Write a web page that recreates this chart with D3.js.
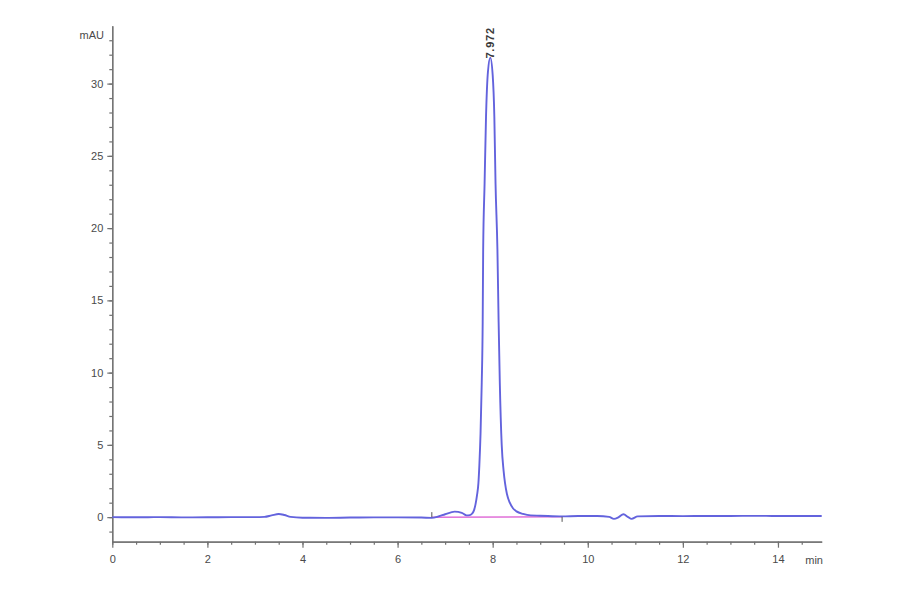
<!DOCTYPE html>
<html>
<head>
<meta charset="utf-8">
<script src="https://cdn.jsdelivr.net/npm/d3@7"></script>
<style>
  body { margin: 0; background: #fff; }
  svg { font-family: Arial, "Liberation Sans", sans-serif; }
  .axis path, .axis line { stroke: #707070; stroke-width: 1.2; }
  .axis text { fill: #4a4a4a; font-size: 11px; }
</style>
</head>
<body>
<div id="chart"></div>
<script>
// retention time (min) and detector signal (mAU)
var times = [0, 0.5, 1.0, 1.5, 2.0, 2.5, 3.0, 3.2, 3.35, 3.5, 3.62, 3.75, 4.0, 4.5, 5.0, 5.5, 6.0, 6.5,
             6.72, 6.86, 7.0, 7.2, 7.35, 7.45, 7.52, 7.57, 7.61, 7.64, 7.67, 7.70, 7.72, 7.745, 7.77,
             7.79, 7.80, 7.83, 7.86, 7.90, 7.95, 8.00, 8.035, 8.06, 8.10, 8.125, 8.15, 8.19, 8.23, 8.26,
             8.30, 8.36, 8.43, 8.50, 8.64, 8.80, 9.0, 9.46, 9.8, 10.2, 10.45, 10.55, 10.65, 10.75,
             10.85, 10.92, 11.05, 11.5, 12.0, 12.5, 13.0, 13.5, 14.0, 14.5, 14.92];
var signal = [0.0, -0.01, 0.0, -0.02, -0.01, 0.0, 0.0, 0.02, 0.12, 0.22, 0.15, 0.02, -0.04, -0.05, -0.03, -0.02, -0.02, -0.03,
              -0.05, 0.05, 0.2, 0.38, 0.3, 0.12, 0.14, 0.25, 0.5, 0.9, 1.5, 2.35, 3.6, 5.8, 9.3,
              13.5, 18.5, 23.1, 27.7, 30.8, 31.8, 30.6, 27.7, 23.1, 18.5, 13.5, 9.3, 5.0, 3.2, 2.35,
              1.6, 1.0, 0.6, 0.4, 0.22, 0.12, 0.1, 0.05, 0.08, 0.08, 0.02, -0.12, 0.0, 0.2,
              0.0, -0.12, 0.05, 0.08, 0.07, 0.08, 0.08, 0.09, 0.08, 0.08, 0.08];

// integration baseline of the main peak
var baseStart = [6.72, 0.0];
var baseEnd = [9.46, 0.02];
var peakTime = 7.95;
var peakHeight = 31.8;
var peakLabel = "7.972";

var xMajorTicks = [0, 2, 4, 6, 8, 10, 12, 14];
var yMajorTicks = [0, 5, 10, 15, 20, 25, 30];
var xUnit = "min";
var yUnit = "mAU";

var width = 900, height = 594;

var svg = d3.select("#chart")
    .append("svg")
    .attr("width", width)
    .attr("height", height);

var xScale = d3.scaleLinear()
    .domain([0, 14.92])
    .range([112.3, 821.7]);

var yScale = d3.scaleLinear()
    .domain([-1.7, 34])
    .range([541.7, 25.8]);

// minor ticks first, then the labelled ones on top
svg.append("g")
    .attr("class", "axis")
    .attr("transform", "translate(0," + yScale.range()[0] + ")")
    .call(d3.axisBottom(xScale).tickValues(d3.range(0, 14.92, 0.5)).tickSize(3).tickSizeOuter(0).tickFormat(""));

svg.append("g")
    .attr("class", "axis")
    .attr("transform", "translate(0," + yScale.range()[0] + ")")
    .call(d3.axisBottom(xScale).tickValues(xMajorTicks).tickSize(6).tickSizeOuter(0).tickPadding(8).tickFormat(d3.format("d")));

svg.append("g")
    .attr("class", "axis")
    .attr("transform", "translate(" + xScale.range()[0] + ",0)")
    .call(d3.axisLeft(yScale).tickValues(d3.range(-1, 34, 1)).tickSize(3).tickSizeOuter(0).tickFormat(""));

svg.append("g")
    .attr("class", "axis")
    .attr("transform", "translate(" + xScale.range()[0] + ",0)")
    .call(d3.axisLeft(yScale).tickValues(yMajorTicks).tickSize(5).tickSizeOuter(0).tickPadding(4).tickFormat(d3.format("d")));

svg.append("text")
    .attr("x", 104)
    .attr("y", 39)
    .attr("text-anchor", "end")
    .attr("fill", "#4a4a4a")
    .style("font-size", "11px")
    .text(yUnit);

svg.append("text")
    .attr("x", 823)
    .attr("y", 564)
    .attr("text-anchor", "end")
    .attr("fill", "#4a4a4a")
    .style("font-size", "11px")
    .text(xUnit);

// baseline under the peak
svg.append("line")
    .attr("x1", xScale(baseStart[0]))
    .attr("x2", xScale(baseEnd[0]))
    .attr("y1", yScale(baseStart[1]))
    .attr("y2", yScale(baseEnd[1]))
    .attr("stroke", "#e070d8")
    .attr("stroke-width", 1.5);

var line = d3.line()
    .x(function(d, i) { return xScale(times[i]); })
    .y(function(d, i) { return yScale(signal[i]); })
    .curve(d3.curveMonotoneX);

svg.append("path")
    .attr("d", line(signal))
    .attr("fill", "none")
    .attr("stroke", "#6363dd")
    .attr("stroke-width", 1.9)
    .attr("stroke-linejoin", "round");

// start / end markers of the integration
svg.append("line")
    .attr("x1", xScale(baseStart[0])).attr("x2", xScale(baseStart[0]))
    .attr("y1", yScale(baseStart[1])).attr("y2", yScale(baseStart[1]) - 5)
    .attr("stroke", "#555").attr("stroke-width", 1);

svg.append("line")
    .attr("x1", xScale(baseEnd[0])).attr("x2", xScale(baseEnd[0]))
    .attr("y1", yScale(baseEnd[1])).attr("y2", yScale(baseEnd[1]) + 5)
    .attr("stroke", "#555").attr("stroke-width", 1);

svg.append("text")
    .attr("transform", "translate(" + (xScale(peakTime) + 4) + "," + (yScale(peakHeight) + 1) + ") rotate(-90)")
    .attr("fill", "#3a3a3a")
    .style("font-size", "11px")
    .style("font-weight", "bold")
    .style("letter-spacing", "0.8px")
    .text(peakLabel);
</script>
</body>
</html>
